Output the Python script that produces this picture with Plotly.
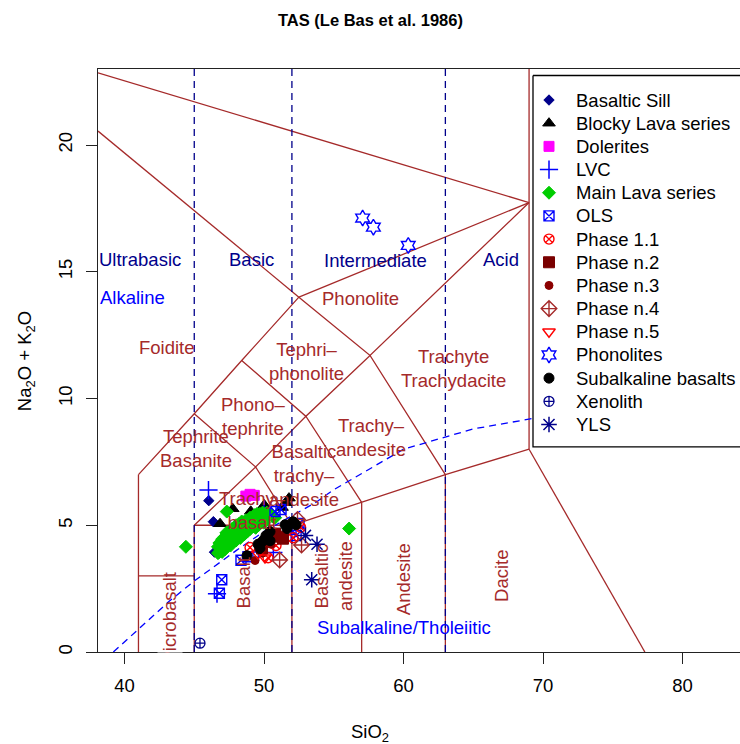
import plotly.graph_objects as go

# ---------------------------------------------------------------
# Sample groups: (SiO2 wt.%, Na2O + K2O wt.%)
# ---------------------------------------------------------------
basaltic_sill = [(46.04, 5.97), (46.37, 5.14), (46.45, 3.94)]
blocky_lava = [(46.85, 5.06), (47.76, 5.65), (49.05, 5.55), (50.02, 5.80),
               (51.29, 5.70), (51.58, 5.89), (51.79, 6.07)]
dolerites = [(48.70, 6.15), (49.00, 6.22), (49.30, 6.18)]
lvc = [(46.02, 6.39), (46.63, 2.30), (49.60, 3.95), (50.67, 3.93), (50.00, 5.62)]
main_lava = [
    (44.40, 4.15), (47.33, 5.54), (56.10, 4.87),
    (46.70, 3.90), (46.70, 4.15), (46.80, 4.30), (46.80, 3.95), (46.90, 4.05),
    (47.00, 4.45), (47.00, 4.20), (47.00, 3.95), (47.10, 4.30), (47.20, 4.55),
    (47.20, 4.05), (47.30, 4.40), (47.30, 4.70), (47.40, 4.20), (47.40, 4.55),
    (47.50, 4.35), (47.50, 4.75), (47.60, 4.55), (47.60, 4.20), (47.70, 4.85),
    (47.70, 4.40), (47.80, 4.60), (47.80, 4.35), (47.90, 4.80), (47.90, 4.50),
    (48.00, 5.00), (48.00, 4.65), (48.00, 4.40), (48.10, 4.85), (48.20, 4.60),
    (48.20, 5.05), (48.30, 4.75), (48.30, 4.50), (48.40, 4.95), (48.40, 5.15),
    (48.50, 4.70), (48.50, 4.90), (48.60, 5.10), (48.60, 4.65), (48.70, 4.85),
    (48.70, 5.20), (48.80, 5.00), (48.80, 4.75), (48.90, 5.20), (48.90, 4.95),
    (49.00, 5.30), (49.00, 4.85), (49.00, 5.10), (49.10, 5.00), (49.20, 5.25),
    (49.20, 4.95), (49.30, 5.40), (49.30, 5.10), (49.40, 4.90), (49.40, 5.30),
    (49.50, 5.15), (49.50, 5.45), (49.60, 5.00), (49.60, 5.35), (49.70, 5.20),
    (49.70, 5.45), (49.80, 5.40), (49.90, 5.25), (49.90, 5.50), (50.00, 5.40),
    (50.00, 5.10), (50.20, 5.30), (50.20, 5.50), (50.40, 5.45), (50.60, 5.35),
    (50.80, 5.30),
]
ols = [(46.97, 2.85), (46.80, 2.32), (48.35, 3.62), (48.85, 3.76), (50.79, 5.54),
       (51.22, 5.62), (51.94, 4.83), (52.51, 5.07), (52.30, 4.59)]
phase_1_1 = [(49.00, 4.12), (50.29, 3.72), (52.08, 4.51), (52.62, 4.92), (50.86, 4.20)]
phase_n2 = [(51.08, 4.55), (50.79, 4.67), (50.29, 4.39), (49.86, 4.08), (51.36, 4.47)]
phase_n3 = [(49.36, 3.61), (49.90, 3.90), (50.50, 4.25)]
phase_n4 = [(52.40, 5.23), (52.69, 4.22), (51.12, 3.63)]
phase_n5 = [(50.07, 3.72), (49.57, 3.88)]
phonolites = [(57.07, 17.12), (57.84, 16.76), (60.34, 16.04)]
subalkaline_basalts = [(48.78, 3.80), (49.71, 4.08), (49.86, 4.35), (50.14, 4.59),
                       (50.43, 4.75), (50.00, 4.43), (50.43, 4.39), (51.51, 5.02),
                       (51.65, 4.87), (52.29, 5.02), (52.08, 5.14), (49.57, 4.25)]
xenolith = [(45.41, 0.35)]
yls = [(52.97, 4.60), (53.80, 4.25), (53.42, 2.85)]

# ---------------------------------------------------------------
# TAS field boundaries (Le Bas et al. 1986)
# ---------------------------------------------------------------
tas_boundaries = [
    [(41, 0), (41, 7)],
    [(41, 3), (45, 3)],
    [(45, 0), (45, 5)],
    [(45, 5), (52, 5)],
    [(52, 0), (52, 5)],
    [(52, 5), (57, 5.9), (63, 7), (69, 8)],
    [(57, 0), (57, 5.9)],
    [(63, 0), (63, 7)],
    [(69, 8), (77.3, 0)],
    [(41, 7), (45, 9.4), (48.4, 11.5), (52.5, 14)],
    [(45, 5), (49.4, 7.3), (52, 5)],
    [(45, 9.4), (49.4, 7.3), (53, 9.3), (57, 5.9)],
    [(48.4, 11.5), (53, 9.3), (57.6, 11.7), (63, 7)],
    [(52.5, 14), (57.6, 11.7), (69, 17.73)],
    [(52.5, 14), (69, 17.73)],
    [(69, 8), (69, 23)],
    [(38.1, 22.85), (69, 17.73)],
    [(38.1, 20.55), (52.5, 14)],
]
silica_divisions = [45, 52, 63]

# Alkaline / subalkaline divide (Irvine & Baragar 1971)
ib_sio2 = [39.2, 40, 43.2, 45, 48, 50, 53.7, 55, 60, 65, 77.4]
ib_alk = [0, 0.4, 2, 2.8, 4, 4.75, 5.9, 6.4, 8, 8.8, 10]

field_labels = [
    ("Foidite", 43.03, 12.0, 0),
    ("Phonolite", 56.95, 13.94, 0),
    ("Tephri\u2013<br>phonolite", 53.06, 11.48, 0),
    ("Phono\u2013<br>tephrite", 49.23, 9.30, 0),
    ("Trachyte<br>Trachydacite", 63.55, 11.19, 0),
    ("Trachy\u2013<br>andesite", 57.7, 8.47, 0),
    ("Basaltic<br>trachy\u2013<br>andesite", 52.85, 6.97, 0),
    ("Tephrite<br>Basanite", 45.15, 8.04, 0),
    ("Trachy\u2013<br>basalt", 49.14, 5.6, 0),
    ("Basalt", 48.52, 2.72, -90),
    ("Basaltic<br>andesite", 54.97, 3.01, -90),
    ("Andesite", 59.96, 2.87, -90),
    ("Dacite", 67.06, 3.0, -90),
    ("Picrobasalt", 43.26, 1.36, -90),
]
silica_labels = [("Ultrabasic", 41.1, 15.47), ("Basic", 49.07, 15.47),
                 ("Intermediate", 58.0, 15.45), ("Acid", 67.0, 15.47)]
series_labels = [("Alkaline", 40.57, 13.98), ("Subalkaline/Tholeiitic", 60.0, 0.97)]

# ---------------------------------------------------------------
# Layout geometry (pixels)
# ---------------------------------------------------------------
FIG_W, FIG_H = 740, 744
PLOT_L, PLOT_R, PLOT_T, PLOT_B = 98, 740, 69, 651.6
X_RANGE = [38.1, 84.12]
Y_RANGE = [0, 23.0]
FONT = "Liberation Sans, Arial, sans-serif"
FS = 18.5
BROWN = "#A52A2A"
DARKBLUE = "#00008B"


def paper_x(px):
    return (px - PLOT_L) / (PLOT_R - PLOT_L)


def paper_y(py):
    return (PLOT_B - py) / (PLOT_B - PLOT_T)


groups = [
    ("Basaltic Sill", basaltic_sill, dict(symbol="diamond", color=DARKBLUE, size=8, lw=1)),
    ("Blocky Lava series", blocky_lava, dict(symbol="triangle-up", color="black", size=11, lw=1)),
    ("Dolerites", dolerites, dict(symbol="square", color="#FF00FF", size=10, lw=1)),
    ("LVC", lvc, dict(symbol="cross-thin-open", color="#0000FF", size=13, lw=1.5)),
    ("Main Lava series", main_lava, dict(symbol="diamond", color="#00CD00", size=10, lw=1)),
    ("OLS", ols, dict(symbol="square-x-open", color="#0000FF", size=10, lw=1.4)),
    ("Phase 1.1", phase_1_1, dict(symbol="circle-x-open", color="#FF0000", size=10, lw=1.4)),
    ("Phase n.2", phase_n2, dict(symbol="square", color="#7A0000", size=11, lw=1)),
    ("Phase n.3", phase_n3, dict(symbol="circle", color="#8B0000", size=8, lw=1)),
    ("Phase n.4", phase_n4, dict(symbol="diamond-cross-open", color=BROWN, size=12, lw=1.4)),
    ("Phase n.5", phase_n5, dict(symbol="triangle-down-open", color="#FF0000", size=11, lw=1.4)),
    ("Phonolites", phonolites, dict(symbol="hexagram-open", color="#0000FF", size=12, lw=1.4)),
    ("Subalkaline basalts", subalkaline_basalts, dict(symbol="circle", color="black", size=10, lw=1)),
    ("Xenolith", xenolith, dict(symbol="circle-cross-open", color=DARKBLUE, size=10, lw=1.3)),
    ("YLS", yls, dict(symbol="asterisk-open", color=DARKBLUE, size=13, lw=1.5)),
]

fig = go.Figure()

# field boundaries
for seg in tas_boundaries:
    fig.add_trace(go.Scatter(x=[p[0] for p in seg], y=[p[1] for p in seg], mode="lines",
                             line=dict(color=BROWN, width=1.3), hoverinfo="skip",
                             showlegend=False))

# silica class divisions
for sx in silica_divisions:
    fig.add_trace(go.Scatter(x=[sx, sx], y=Y_RANGE, mode="lines",
                             line=dict(color=DARKBLUE, width=1.3, dash="7px,5px"),
                             hoverinfo="skip", showlegend=False))

# alkaline / subalkaline divide
fig.add_trace(go.Scatter(x=ib_sio2, y=ib_alk, mode="lines",
                         line=dict(color="#0000FF", width=1.3, dash="7px,5px"),
                         hoverinfo="skip", showlegend=False))

# samples
for name, pts, st in groups:
    fig.add_trace(go.Scatter(
        x=[p[0] for p in pts], y=[p[1] for p in pts], mode="markers", name=name,
        marker=dict(symbol=st["symbol"], color=st["color"], size=st["size"],
                    line=dict(color=st["color"], width=st["lw"])),
        showlegend=False))

# legend box and keys, drawn on a pixel-scaled overlay axis pair
LEG_L, LEG_T, LEG_B = 533, 75.5, 446.7
ROW0, ROW_STEP = 100, 23.16
KEY_X, TEXT_X = 549, 574
fig.add_trace(go.Scatter(x=[LEG_L, 760, 760, LEG_L, LEG_L],
                         y=[LEG_T, LEG_T, LEG_B, LEG_B, LEG_T],
                         mode="lines", fill="toself", fillcolor="white",
                         line=dict(color="black", width=1.3),
                         xaxis="x2", yaxis="y2", hoverinfo="skip", showlegend=False))
annotations = []
for i, (name, pts, st) in enumerate(groups):
    ry = ROW0 + i * ROW_STEP
    fig.add_trace(go.Scatter(
        x=[KEY_X], y=[ry], mode="markers", xaxis="x2", yaxis="y2",
        marker=dict(symbol=st["symbol"], color=st["color"], size=st["size"],
                    line=dict(color=st["color"], width=st["lw"])),
        hoverinfo="skip", showlegend=False))
    annotations.append(dict(x=TEXT_X, y=ry, xref="x2", yref="y2", text=name,
                            showarrow=False, xanchor="left", yanchor="middle",
                            font=dict(family=FONT, size=FS, color="black")))

for text, lx, ly, ang in field_labels:
    annotations.append(dict(x=lx, y=ly, xref="x", yref="y", text=text, showarrow=False,
                            textangle=ang, xanchor="center", yanchor="middle",
                            font=dict(family=FONT, size=FS, color=BROWN)))
for text, lx, ly in silica_labels:
    annotations.append(dict(x=lx, y=ly, xref="x", yref="y", text=text, showarrow=False,
                            xanchor="center", yanchor="middle",
                            font=dict(family=FONT, size=FS, color=DARKBLUE)))
for text, lx, ly in series_labels:
    annotations.append(dict(x=lx, y=ly, xref="x", yref="y", text=text, showarrow=False,
                            xanchor="center", yanchor="middle",
                            font=dict(family=FONT, size=FS, color="#0000FF")))

# mask the part of the rotated field label that falls below the frame
annotations.append(dict(x=paper_x(170), y=paper_y(660), xref="paper", yref="paper",
                        text="_", showarrow=False, bgcolor="white", width=24, height=15,
                        borderpad=0, xanchor="center", yanchor="middle",
                        font=dict(family=FONT, size=8, color="white")))

# titles
annotations.append(dict(x=paper_x(370), y=paper_y(20), xref="paper", yref="paper",
                        text="<b>TAS (Le Bas et al. 1986)</b>", showarrow=False,
                        xanchor="center", yanchor="middle",
                        font=dict(family=FONT, size=16.5, color="black")))
annotations.append(dict(x=paper_x(370), y=paper_y(733), xref="paper", yref="paper",
                        text="SiO<sub>2</sub>", showarrow=False,
                        xanchor="center", yanchor="middle",
                        font=dict(family=FONT, size=FS, color="black")))
annotations.append(dict(x=paper_x(26), y=paper_y(361), xref="paper", yref="paper",
                        text="Na<sub>2</sub>O + K<sub>2</sub>O", showarrow=False,
                        textangle=-90, xanchor="center", yanchor="middle",
                        font=dict(family=FONT, size=FS, color="black")))

fig.update_layout(
    width=FIG_W, height=FIG_H, autosize=False,
    margin=dict(l=PLOT_L, r=FIG_W - PLOT_R, t=PLOT_T, b=FIG_H - PLOT_B, pad=0),
    paper_bgcolor="white", plot_bgcolor="white",
    font=dict(family=FONT, size=FS, color="black"),
    showlegend=False,
    xaxis=dict(range=X_RANGE, tickvals=[40, 50, 60, 70, 80], ticks="outside", ticklen=11,
               tickwidth=1.3, tickcolor="#222", showline=True, linecolor="#222",
               linewidth=1.3, mirror=True, showgrid=False, zeroline=False,
               tickfont=dict(family=FONT, size=FS, color="black"), ticklabelstandoff=6),
    yaxis=dict(range=Y_RANGE, tickvals=[0, 5, 10, 15, 20], ticks="outside", ticklen=11,
               tickwidth=1.3, tickcolor="#222", showline=True, linecolor="#222",
               linewidth=1.3, mirror=False, showgrid=False, zeroline=False,
               tickangle=-90, tickfont=dict(family=FONT, size=FS, color="black"),
               ticklabelstandoff=6),
    xaxis2=dict(overlaying="x", anchor="y2", range=[PLOT_L, PLOT_R], visible=False,
                showgrid=False, zeroline=False),
    yaxis2=dict(overlaying="y", anchor="x2", range=[PLOT_B, PLOT_T], visible=False,
                showgrid=False, zeroline=False),
    annotations=annotations,
)

fig.write_html("out.html")
